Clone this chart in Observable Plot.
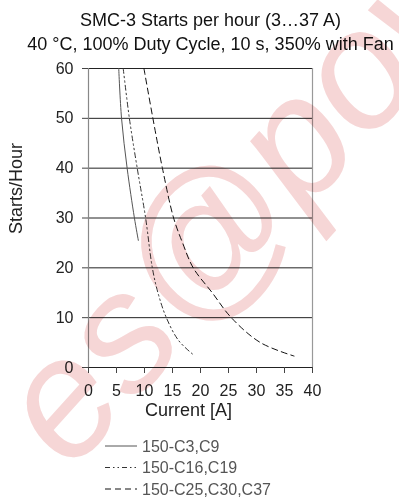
<!DOCTYPE html>
<html><head><meta charset="utf-8">
<script src="https://cdn.jsdelivr.net/npm/d3@7"></script>
<script src="https://cdn.jsdelivr.net/npm/@observablehq/plot@0.6"></script>
<style>
body{margin:0;background:#fff;width:399px;height:500px;overflow:hidden;position:relative;font-family:"Liberation Sans",Arial,sans-serif;}
#title{padding-top:8px;padding-left:22px;height:48px;text-align:center;font-size:18px;line-height:24px;color:#111;white-space:nowrap;}
#wm{position:absolute;left:0;top:0;mix-blend-mode:multiply;pointer-events:none;}
</style></head>
<body>
<div id="title"><div>SMC-3 Starts per hour (3…37 A)</div><div>40 °C, 100% Duty Cycle, 10 s, 350% with Fan</div></div>
<div id="chart"></div>
<div id="legend"></div>
<script>
const xTicks = [0,5,10,15,20,25,30,35,40];
const yTicks = [0,10,20,30,40,50,60];
const seriesNames = ["150-C3,C9","150-C16,C19","150-C25,C30,C37"];
const currentSolid = [5.4,5.9,6.9,8.2,8.9];
const startsSolid = [60,50,40,30,25.5];
const currentDashDot = [6.2,7.3,8.7,10.2,11.4,12.4,13.9,16.1,18.9];
const startsDashDot = [60,50,40,30,20,15,10,5.4,2.4];
const currentDashed = [9.9,11.5,13.2,15.2,16.8,18.7,22.1,25.5,30.7,36.7];
const startsDashed = [60,50,40,30,25,20,15,10,5,2.3];
const xLabel = "Current [A]";
const yLabel = "Starts/Hour";
const watermark = "es@powe";

const toRows = (xs, ys) => xs.map((x,i)=>({x, y: ys[i]}));
const styles = [
  {stroke:"#555", dash:null},
  {stroke:"#333", dash:"5,3,1.5,3,1.5,3"},
  {stroke:"#111", dash:"6,4"}
];
const data = [toRows(currentSolid,startsSolid), toRows(currentDashDot,startsDashDot), toRows(currentDashed,startsDashed)];

const plot = Plot.plot({
  width: 399, height: 369,
  marginTop: 12, marginBottom: 58, marginLeft: 88, marginRight: 87,
  x: {domain:[0,40]},
  y: {domain:[0,60]},
  style: {fontFamily:'"Liberation Sans",Arial,sans-serif', fontSize:"16px", color:"#222", background:"transparent", overflow:"visible"},
  marks: [
    Plot.ruleY(yTicks, {stroke:"#222", strokeWidth:1}),
    Plot.ruleX([0], {stroke:"#888", strokeWidth:1.2}),
    Plot.ruleX([40], {stroke:"#999", strokeWidth:1.2}),
    Plot.axisY({ticks: yTicks, tickSize:6, tickPadding:9, label:null, stroke:"#444"}),
    Plot.axisX({ticks: xTicks, tickSize:6, tickPadding:11, label:null, stroke:"#444"}),
    ...data.map((d,i)=>Plot.line(d, {x:"x", y:"y", curve:"catmull-rom", stroke:styles[i].stroke, strokeWidth:1, strokeDasharray:styles[i].dash})),
    Plot.text([yLabel], {frameAnchor:"left", dx:-72, dy:16, rotate:-90, fontSize:18, fill:"#222"}),
    Plot.text([xLabel], {frameAnchor:"bottom", dx:-12, dy:48, fontSize:18, fill:"#222"})
  ]
});
document.getElementById("chart").appendChild(plot);

// legend
const ns = "http://www.w3.org/2000/svg";
const lg = document.createElementNS(ns,"svg");
lg.setAttribute("width",399); lg.setAttribute("height",75);
lg.style.display="block";
seriesNames.forEach((name,i)=>{
  const y = 21 + i*21.5;
  const l = document.createElementNS(ns,"line");
  l.setAttribute("x1",105); l.setAttribute("x2",137); l.setAttribute("y1",y); l.setAttribute("y2",y);
  l.setAttribute("stroke",styles[i].stroke); l.setAttribute("stroke-width",1);
  if (styles[i].dash) l.setAttribute("stroke-dasharray",styles[i].dash);
  lg.appendChild(l);
  const t = document.createElementNS(ns,"text");
  t.setAttribute("x",142); t.setAttribute("y",y); t.setAttribute("dominant-baseline","central");
  t.setAttribute("font-size",16); t.setAttribute("fill","#555");
  t.setAttribute("font-family",'"Liberation Sans",Arial,sans-serif');
  t.textContent = name;
  lg.appendChild(t);
});
document.getElementById("legend").appendChild(lg);

// watermark
const wm = document.createElementNS(ns,"svg");
wm.setAttribute("id","wm"); wm.setAttribute("width",399); wm.setAttribute("height",500);
const wt = document.createElementNS(ns,"text");
wt.setAttribute("x",0); wt.setAttribute("y",0);
wt.setAttribute("transform","translate(278,156) rotate(-48)");
wt.setAttribute("text-anchor","middle"); wt.setAttribute("dominant-baseline","central");
wt.setAttribute("font-size",168); wt.setAttribute("font-style","italic");
wt.setAttribute("font-family",'"Liberation Sans",Arial,sans-serif');
wt.setAttribute("fill","#f6d6d6");
wt.textContent = watermark;
wm.appendChild(wt);
document.body.appendChild(wm);
</script>
</body></html>
